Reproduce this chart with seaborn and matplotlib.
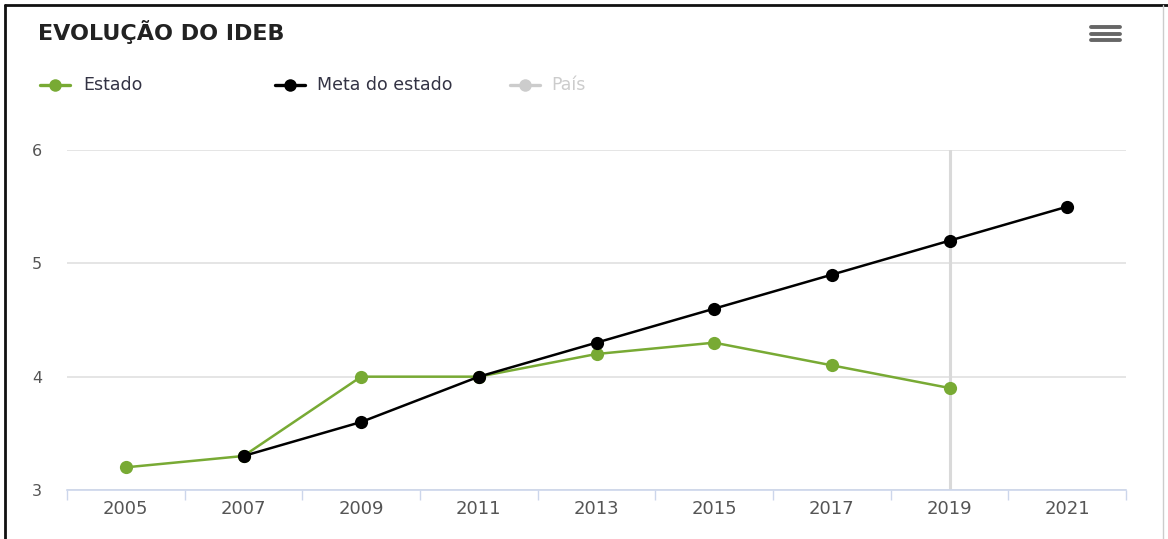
import numpy as np
import pandas as pd
import matplotlib
matplotlib.use("Agg")
import matplotlib.pyplot as plt
from matplotlib.lines import Line2D
import seaborn as sns

years = ["2005", "2007", "2009", "2011", "2013", "2015", "2017", "2019", "2021"]
estado = [3.2, 3.3, 4.0, 4.0, 4.2, 4.3, 4.1, 3.9, None]
meta = [None, 3.3, 3.6, 4.0, 4.3, 4.6, 4.9, 5.2, 5.5]
series_names = ["Estado", "Meta do estado", "País"]
colors = {"Estado": "#78aa34", "Meta do estado": "#000000", "País": "#cccccc"}
yticks = [3, 4, 5, 6]
title = "EVOLUÇÃO DO IDEB"

sns.set_theme(style="white")
plt.rcParams['font.family'] = ['DejaVu Sans']

rows = []
for i, y in enumerate(years):
    if estado[i] is not None:
        rows.append({"idx": i, "ano": y, "valor": estado[i], "serie": "Estado"})
    if meta[i] is not None:
        rows.append({"idx": i, "ano": y, "valor": meta[i], "serie": "Meta do estado"})
df = pd.DataFrame(rows)

W, H = 1168, 539
fig = plt.figure(figsize=(W / 100, H / 100), dpi=100)
ax = fig.add_axes([67 / W, 1 - 490 / H, (1126 - 67) / W, 340 / H])

# hover crosshair at 2019
ax.axvline(years.index("2019"), color="#d9d9d9", lw=2.2, zorder=1)

for name in ["Estado", "Meta do estado"]:
    sub = df[df["serie"] == name]
    sns.lineplot(data=sub, x="idx", y="valor", ax=ax, color=colors[name],
                 marker="o", markersize=9.5, markeredgewidth=0, lw=1.8,
                 legend=False, zorder=3)

ax.set_xlim(-0.5, len(years) - 0.5)
ax.set_ylim(3, 6)
ax.set_yticks(yticks)
ax.set_yticklabels([str(t) for t in yticks])
ax.set_xticks(range(len(years)))
ax.set_xticklabels(years)
ax.set_xticks(np.arange(-0.5, len(years), 1.0), minor=True)
ax.set_xlabel("")
ax.set_ylabel("")
ax.yaxis.grid(True, color="#e0e0e0", lw=1.2)
ax.xaxis.grid(False)
for s in ["top", "right", "left"]:
    ax.spines[s].set_visible(False)
ax.spines["bottom"].set_color("#ccd6eb")
ax.spines["bottom"].set_linewidth(1.2)
ax.tick_params(axis="x", which="major", length=0, pad=7, labelsize=13, labelcolor="#555555")
ax.tick_params(axis="x", which="minor", length=7, width=1, color="#ccd6eb", bottom=True)
ax.tick_params(axis="y", length=0, pad=18, labelsize=11.5, labelcolor="#555555")

# title
fig.text(38 / W, 1 - 32 / H, title, fontsize=16, fontweight="bold", color="#222222",
         va="center", ha="left")

# legend
leg_y = 1 - 85 / H
items = [("Estado", 40, 83), ("Meta do estado", 275, 317), ("País", 510, 551)]
for name, x0, tx in items:
    c = colors[name]
    fig.add_artist(Line2D([x0 / W, (x0 + 30) / W], [leg_y, leg_y], color=c, lw=2.4,
                          transform=fig.transFigure))
    fig.add_artist(Line2D([(x0 + 15) / W], [leg_y], color=c, marker="o", markersize=9,
                          markeredgewidth=0, transform=fig.transFigure))
    fig.text(tx / W, leg_y, name, fontsize=12.5, va="center", ha="left",
             color="#cccccc" if name == "País" else "#333344")

# hamburger menu icon
for yy in [27, 33.5, 40]:
    fig.add_artist(Line2D([1091 / W, 1120 / W], [1 - yy / H, 1 - yy / H], color="#666666",
                          lw=2.8, solid_capstyle="round", transform=fig.transFigure))

# frame borders
fig.add_artist(Line2D([5 / W, 5 / W], [0, 1 - 5 / H], color="#111111", lw=2, transform=fig.transFigure))
fig.add_artist(Line2D([5 / W, 1], [1 - 5 / H, 1 - 5 / H], color="#111111", lw=2, transform=fig.transFigure))
fig.add_artist(Line2D([1163 / W, 1163 / W], [0, 1 - 5 / H], color="#cccccc", lw=1, transform=fig.transFigure))

fig.savefig("out.png", dpi=100)
